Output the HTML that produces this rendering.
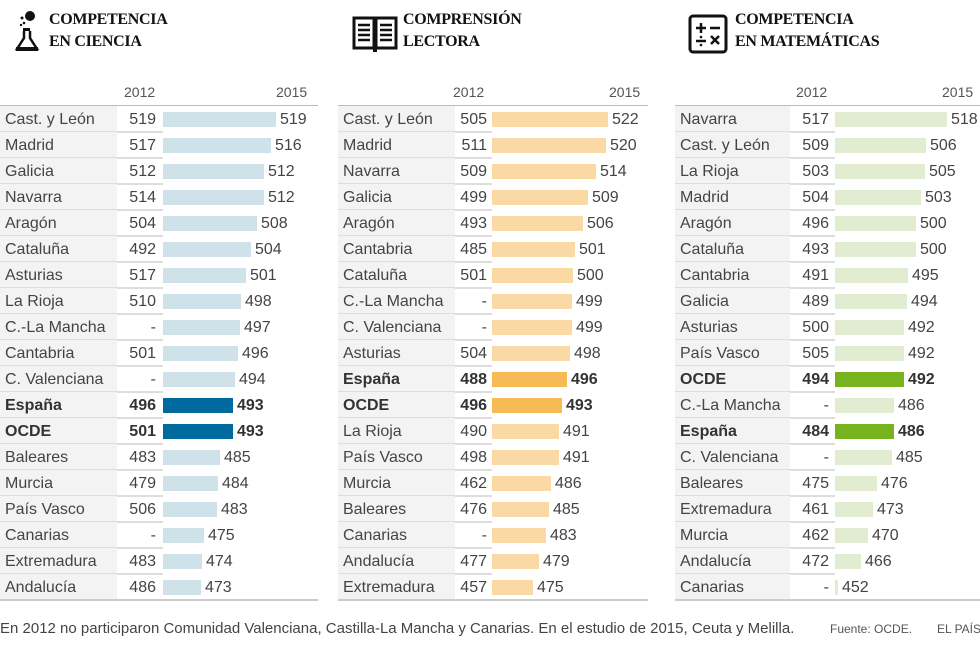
<!DOCTYPE html>
<html><head><meta charset="utf-8">
<style>
*{margin:0;padding:0;box-sizing:border-box}
body{width:980px;height:646px;background:#fff;position:relative;overflow:hidden;font-family:"Liberation Sans",sans-serif;color:#444}
.t{position:absolute;top:9px;font-family:"Liberation Serif",serif;font-weight:bold;font-size:16px;line-height:22px;color:#111;letter-spacing:-0.3px}
.ic{position:absolute;top:9px}
.p{position:absolute;top:105px;border-top:1px solid #bbb}
.yr{position:absolute;top:84px;font-size:14px;color:#555}
.r{position:relative;height:26px}
.n{position:absolute;left:0;top:0;height:26px;width:var(--nw);background:#f3f3f3;padding-left:5px;padding-top:1px;font-size:16px;line-height:26px;white-space:nowrap}
.s{position:absolute;left:0;bottom:-1px;height:2px;width:var(--bl);background:#ddd}
.v{position:absolute;right:calc(100% - var(--ve));top:1px;font-size:16px;line-height:26px}
.bw{position:absolute;left:var(--bl);top:0;height:26px;display:flex;align-items:center;white-space:nowrap}
.b{height:15px;background:var(--c);margin-top:1px}
.l{font-size:16px;line-height:26px;margin-left:4px;padding-top:2px}
.k .n,.k .v,.k .l{font-weight:bold;color:#333}
.k .b{background:var(--d)}
.bot{position:absolute;top:599px;height:2px;background:#ccc}
.f{position:absolute;top:620px;font-size:15px;color:#444;white-space:nowrap}
</style></head><body>

<svg class="ic" style="left:14px" width="26" height="44" viewBox="0 0 26 44">
<circle cx="16" cy="7" r="5" fill="#111"/><circle cx="8" cy="9" r="1.5" fill="#111"/><circle cx="10" cy="14" r="1.3" fill="#111"/><circle cx="7" cy="16" r="1.2" fill="#111"/>
<rect x="9" y="19" width="7" height="3" fill="#111"/><path d="M10 22v7L3 40h20L16 29v-7" fill="none" stroke="#111" stroke-width="2.5"/><rect x="2" y="38" width="22" height="4" fill="#111"/></svg>
<div class="t" style="left:49px">COMPETENCIA<br>EN CIENCIA</div>

<svg class="ic" style="left:352px;top:16px" width="46" height="38" viewBox="0 0 46 38">
<rect x="2" y="2" width="20" height="30" fill="none" stroke="#111" stroke-width="3"/><rect x="24" y="2" width="20" height="30" fill="none" stroke="#111" stroke-width="3"/>
<g stroke="#111" stroke-width="2.5"><path d="M6 9h12M6 14h12M6 19h12M6 24h12M28 9h12M28 14h12M28 19h12M28 24h12"/></g>
<rect x="21" y="30" width="4" height="6" fill="#111"/></svg>
<div class="t" style="left:403px">COMPRENSIÓN<br>LECTORA</div>

<svg class="ic" style="left:688px;top:14px" width="40" height="40" viewBox="0 0 40 40">
<rect x="2" y="2" width="36" height="36" rx="3" fill="none" stroke="#111" stroke-width="3"/>
<g stroke="#111" stroke-width="2.5"><path d="M8 14h10M13 9v10M22 14h10M8 27h10M23 22l8 8M31 22l-8 8"/></g>
<circle cx="13" cy="23" r="1.3" fill="#111"/><circle cx="13" cy="31" r="1.3" fill="#111"/></svg>
<div class="t" style="left:735px">COMPETENCIA<br>EN MATEMÁTICAS</div>

<div class="yr" style="left:124px">2012</div><div class="yr" style="left:276px">2015</div>
<div class="yr" style="left:453px">2012</div><div class="yr" style="left:609px">2015</div>
<div class="yr" style="left:796px">2012</div><div class="yr" style="left:942px">2015</div>

<div class="p" style="left:0;width:318px;--nw:117px;--ve:156px;--bl:163px;--c:#cfe2ea;--d:#006a9e">
<div class="r"><div class="n">Cast. y León</div><div class="s"></div><div class="v">519</div><div class="bw"><div class="b" style="width:113px"></div><div class="l">519</div></div></div>
<div class="r"><div class="n">Madrid</div><div class="s"></div><div class="v">517</div><div class="bw"><div class="b" style="width:108px"></div><div class="l">516</div></div></div>
<div class="r"><div class="n">Galicia</div><div class="s"></div><div class="v">512</div><div class="bw"><div class="b" style="width:101px"></div><div class="l">512</div></div></div>
<div class="r"><div class="n">Navarra</div><div class="s"></div><div class="v">514</div><div class="bw"><div class="b" style="width:101px"></div><div class="l">512</div></div></div>
<div class="r"><div class="n">Aragón</div><div class="s"></div><div class="v">504</div><div class="bw"><div class="b" style="width:94px"></div><div class="l">508</div></div></div>
<div class="r"><div class="n">Cataluña</div><div class="s"></div><div class="v">492</div><div class="bw"><div class="b" style="width:88px"></div><div class="l">504</div></div></div>
<div class="r"><div class="n">Asturias</div><div class="s"></div><div class="v">517</div><div class="bw"><div class="b" style="width:83px"></div><div class="l">501</div></div></div>
<div class="r"><div class="n">La Rioja</div><div class="s"></div><div class="v">510</div><div class="bw"><div class="b" style="width:78px"></div><div class="l">498</div></div></div>
<div class="r"><div class="n">C.-La Mancha</div><div class="s"></div><div class="v">-</div><div class="bw"><div class="b" style="width:77px"></div><div class="l">497</div></div></div>
<div class="r"><div class="n">Cantabria</div><div class="s"></div><div class="v">501</div><div class="bw"><div class="b" style="width:75px"></div><div class="l">496</div></div></div>
<div class="r"><div class="n">C. Valenciana</div><div class="s"></div><div class="v">-</div><div class="bw"><div class="b" style="width:72px"></div><div class="l">494</div></div></div>
<div class="r k"><div class="n">España</div><div class="s"></div><div class="v">496</div><div class="bw"><div class="b" style="width:70px"></div><div class="l">493</div></div></div>
<div class="r k"><div class="n">OCDE</div><div class="s"></div><div class="v">501</div><div class="bw"><div class="b" style="width:70px"></div><div class="l">493</div></div></div>
<div class="r"><div class="n">Baleares</div><div class="s"></div><div class="v">483</div><div class="bw"><div class="b" style="width:57px"></div><div class="l">485</div></div></div>
<div class="r"><div class="n">Murcia</div><div class="s"></div><div class="v">479</div><div class="bw"><div class="b" style="width:55px"></div><div class="l">484</div></div></div>
<div class="r"><div class="n">País Vasco</div><div class="s"></div><div class="v">506</div><div class="bw"><div class="b" style="width:54px"></div><div class="l">483</div></div></div>
<div class="r"><div class="n">Canarias</div><div class="s"></div><div class="v">-</div><div class="bw"><div class="b" style="width:41px"></div><div class="l">475</div></div></div>
<div class="r"><div class="n">Extremadura</div><div class="s"></div><div class="v">483</div><div class="bw"><div class="b" style="width:39px"></div><div class="l">474</div></div></div>
<div class="r"><div class="n">Andalucía</div><div class="v">486</div><div class="bw"><div class="b" style="width:38px"></div><div class="l">473</div></div></div>
</div>

<div class="p" style="left:338px;width:310px;--nw:117px;--ve:149px;--bl:154px;--c:#fbd9a4;--d:#f6bb55">
<div class="r"><div class="n">Cast. y León</div><div class="s"></div><div class="v">505</div><div class="bw"><div class="b" style="width:116px"></div><div class="l">522</div></div></div>
<div class="r"><div class="n">Madrid</div><div class="s"></div><div class="v">511</div><div class="bw"><div class="b" style="width:114px"></div><div class="l">520</div></div></div>
<div class="r"><div class="n">Navarra</div><div class="s"></div><div class="v">509</div><div class="bw"><div class="b" style="width:104px"></div><div class="l">514</div></div></div>
<div class="r"><div class="n">Galicia</div><div class="s"></div><div class="v">499</div><div class="bw"><div class="b" style="width:96px"></div><div class="l">509</div></div></div>
<div class="r"><div class="n">Aragón</div><div class="s"></div><div class="v">493</div><div class="bw"><div class="b" style="width:91px"></div><div class="l">506</div></div></div>
<div class="r"><div class="n">Cantabria</div><div class="s"></div><div class="v">485</div><div class="bw"><div class="b" style="width:83px"></div><div class="l">501</div></div></div>
<div class="r"><div class="n">Cataluña</div><div class="s"></div><div class="v">501</div><div class="bw"><div class="b" style="width:81px"></div><div class="l">500</div></div></div>
<div class="r"><div class="n">C.-La Mancha</div><div class="s"></div><div class="v">-</div><div class="bw"><div class="b" style="width:80px"></div><div class="l">499</div></div></div>
<div class="r"><div class="n">C. Valenciana</div><div class="s"></div><div class="v">-</div><div class="bw"><div class="b" style="width:80px"></div><div class="l">499</div></div></div>
<div class="r"><div class="n">Asturias</div><div class="s"></div><div class="v">504</div><div class="bw"><div class="b" style="width:78px"></div><div class="l">498</div></div></div>
<div class="r k"><div class="n">España</div><div class="s"></div><div class="v">488</div><div class="bw"><div class="b" style="width:75px"></div><div class="l">496</div></div></div>
<div class="r k"><div class="n">OCDE</div><div class="s"></div><div class="v">496</div><div class="bw"><div class="b" style="width:70px"></div><div class="l">493</div></div></div>
<div class="r"><div class="n">La Rioja</div><div class="s"></div><div class="v">490</div><div class="bw"><div class="b" style="width:67px"></div><div class="l">491</div></div></div>
<div class="r"><div class="n">País Vasco</div><div class="s"></div><div class="v">498</div><div class="bw"><div class="b" style="width:67px"></div><div class="l">491</div></div></div>
<div class="r"><div class="n">Murcia</div><div class="s"></div><div class="v">462</div><div class="bw"><div class="b" style="width:59px"></div><div class="l">486</div></div></div>
<div class="r"><div class="n">Baleares</div><div class="s"></div><div class="v">476</div><div class="bw"><div class="b" style="width:57px"></div><div class="l">485</div></div></div>
<div class="r"><div class="n">Canarias</div><div class="s"></div><div class="v">-</div><div class="bw"><div class="b" style="width:54px"></div><div class="l">483</div></div></div>
<div class="r"><div class="n">Andalucía</div><div class="s"></div><div class="v">477</div><div class="bw"><div class="b" style="width:47px"></div><div class="l">479</div></div></div>
<div class="r"><div class="n">Extremadura</div><div class="v">457</div><div class="bw"><div class="b" style="width:41px"></div><div class="l">475</div></div></div>
</div>

<div class="p" style="left:675px;width:305px;--nw:115px;--ve:154px;--bl:160px;--c:#e2ecd1;--d:#77b21f">
<div class="r"><div class="n">Navarra</div><div class="s"></div><div class="v">517</div><div class="bw"><div class="b" style="width:112px"></div><div class="l">518</div></div></div>
<div class="r"><div class="n">Cast. y León</div><div class="s"></div><div class="v">509</div><div class="bw"><div class="b" style="width:91px"></div><div class="l">506</div></div></div>
<div class="r"><div class="n">La Rioja</div><div class="s"></div><div class="v">503</div><div class="bw"><div class="b" style="width:90px"></div><div class="l">505</div></div></div>
<div class="r"><div class="n">Madrid</div><div class="s"></div><div class="v">504</div><div class="bw"><div class="b" style="width:86px"></div><div class="l">503</div></div></div>
<div class="r"><div class="n">Aragón</div><div class="s"></div><div class="v">496</div><div class="bw"><div class="b" style="width:81px"></div><div class="l">500</div></div></div>
<div class="r"><div class="n">Cataluña</div><div class="s"></div><div class="v">493</div><div class="bw"><div class="b" style="width:81px"></div><div class="l">500</div></div></div>
<div class="r"><div class="n">Cantabria</div><div class="s"></div><div class="v">491</div><div class="bw"><div class="b" style="width:73px"></div><div class="l">495</div></div></div>
<div class="r"><div class="n">Galicia</div><div class="s"></div><div class="v">489</div><div class="bw"><div class="b" style="width:72px"></div><div class="l">494</div></div></div>
<div class="r"><div class="n">Asturias</div><div class="s"></div><div class="v">500</div><div class="bw"><div class="b" style="width:69px"></div><div class="l">492</div></div></div>
<div class="r"><div class="n">País Vasco</div><div class="s"></div><div class="v">505</div><div class="bw"><div class="b" style="width:69px"></div><div class="l">492</div></div></div>
<div class="r k"><div class="n">OCDE</div><div class="s"></div><div class="v">494</div><div class="bw"><div class="b" style="width:69px"></div><div class="l">492</div></div></div>
<div class="r"><div class="n">C.-La Mancha</div><div class="s"></div><div class="v">-</div><div class="bw"><div class="b" style="width:59px"></div><div class="l">486</div></div></div>
<div class="r k"><div class="n">España</div><div class="s"></div><div class="v">484</div><div class="bw"><div class="b" style="width:59px"></div><div class="l">486</div></div></div>
<div class="r"><div class="n">C. Valenciana</div><div class="s"></div><div class="v">-</div><div class="bw"><div class="b" style="width:57px"></div><div class="l">485</div></div></div>
<div class="r"><div class="n">Baleares</div><div class="s"></div><div class="v">475</div><div class="bw"><div class="b" style="width:42px"></div><div class="l">476</div></div></div>
<div class="r"><div class="n">Extremadura</div><div class="s"></div><div class="v">461</div><div class="bw"><div class="b" style="width:38px"></div><div class="l">473</div></div></div>
<div class="r"><div class="n">Murcia</div><div class="s"></div><div class="v">462</div><div class="bw"><div class="b" style="width:33px"></div><div class="l">470</div></div></div>
<div class="r"><div class="n">Andalucía</div><div class="s"></div><div class="v">472</div><div class="bw"><div class="b" style="width:26px"></div><div class="l">466</div></div></div>
<div class="r"><div class="n">Canarias</div><div class="v">-</div><div class="bw"><div class="b" style="width:3px"></div><div class="l">452</div></div></div>
</div>

<div class="bot" style="left:0;width:318px"></div>
<div class="bot" style="left:338px;width:310px"></div>
<div class="bot" style="left:675px;width:305px"></div>

<div class="f" style="left:0">En 2012 no participaron Comunidad Valenciana, Castilla-La Mancha y Canarias. En el estudio de 2015, Ceuta y Melilla.</div>
<div class="f" style="left:830px;font-size:12px;top:622px;color:#555">Fuente: OCDE.</div>
<div class="f" style="left:937px;font-size:12px;top:622px;color:#555">EL PAÍS</div>
</body></html>
